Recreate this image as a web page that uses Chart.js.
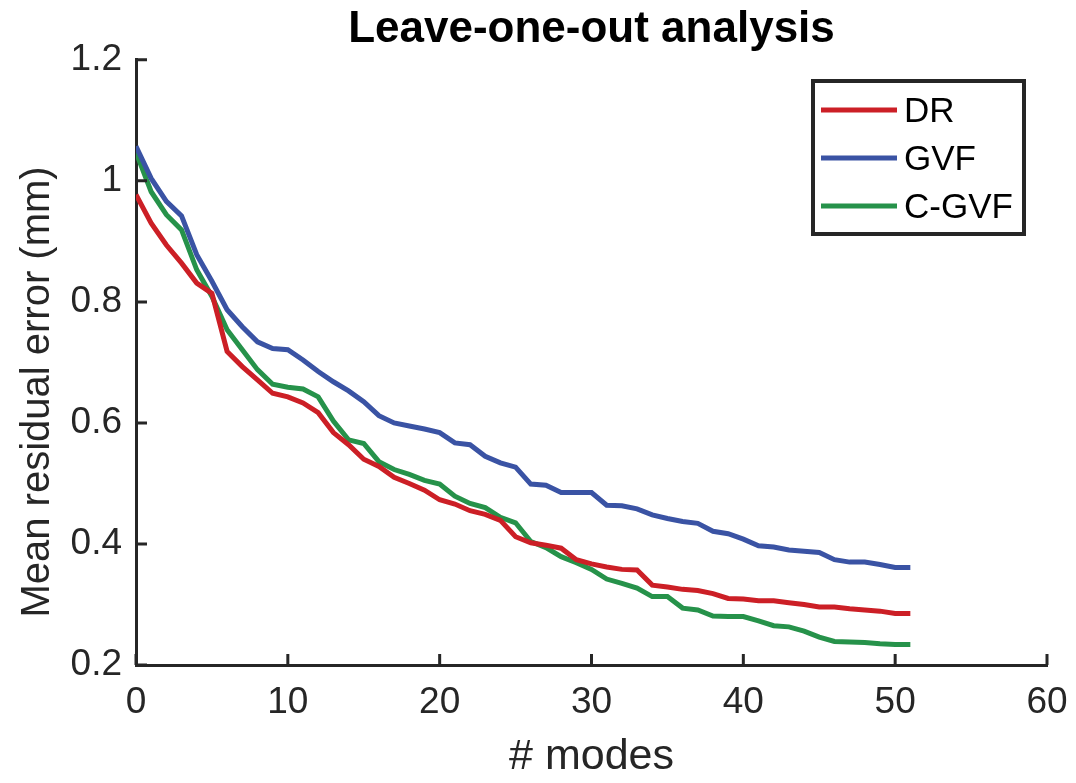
<!DOCTYPE html>
<html>
<head>
<meta charset="utf-8">
<title>Leave-one-out analysis</title>
<script src="https://cdn.jsdelivr.net/npm/chart.js@4/dist/chart.umd.min.js"></script>
<style>
  html, body { margin: 0; padding: 0; background: #fff; }
  #chart { display: block; }
</style>
</head>
<body>
<canvas id="chart" width="1076" height="783"></canvas>
<script>
// Data
const modes = [0, 1, 2, 3, 4, 5, 6, 7, 8, 9, 10, 11, 12, 13, 14, 15, 16, 17, 18, 19, 20, 21, 22, 23, 24, 25,
  26, 27, 28, 29, 30, 31, 32, 33, 34, 35, 36, 37, 38, 39, 40, 41, 42, 43, 44, 45, 46, 47, 48, 49, 50, 51];

const drValues = [0.977, 0.930, 0.894, 0.864, 0.831, 0.814, 0.718, 0.693, 0.671, 0.649, 0.643, 0.633, 0.617,
  0.584, 0.564, 0.540, 0.528, 0.510, 0.500, 0.489, 0.473, 0.466, 0.455, 0.449, 0.439, 0.412,
  0.402, 0.398, 0.393, 0.374, 0.367, 0.362, 0.358, 0.357, 0.332, 0.329, 0.325, 0.323, 0.318, 0.310,
  0.309, 0.306, 0.306, 0.303, 0.300, 0.296, 0.296, 0.293, 0.291, 0.289, 0.285, 0.285];

const gvfValues = [1.057, 1.004, 0.966, 0.942, 0.878, 0.834, 0.787, 0.759, 0.734, 0.723, 0.721, 0.704, 0.685,
  0.668, 0.653, 0.635, 0.612, 0.600, 0.595, 0.590, 0.584, 0.567, 0.564, 0.545, 0.534, 0.527,
  0.499, 0.497, 0.485, 0.485, 0.485, 0.464, 0.463, 0.458, 0.448, 0.442, 0.437, 0.434, 0.421, 0.417,
  0.408, 0.397, 0.395, 0.390, 0.388, 0.386, 0.374, 0.370, 0.370, 0.366, 0.361, 0.361];

const cgvfValues = [1.047, 0.982, 0.944, 0.919, 0.853, 0.809, 0.754, 0.721, 0.688, 0.664, 0.659, 0.656, 0.643,
  0.603, 0.572, 0.566, 0.536, 0.523, 0.515, 0.505, 0.499, 0.479, 0.467, 0.460, 0.444, 0.435,
  0.404, 0.394, 0.379, 0.369, 0.358, 0.342, 0.335, 0.327, 0.313, 0.313, 0.294, 0.291, 0.281, 0.280,
  0.280, 0.273, 0.265, 0.263, 0.256, 0.246, 0.239, 0.238, 0.237, 0.235, 0.234, 0.234];

const seriesLabels = ['DR', 'GVF', 'C-GVF'];
const seriesColors = ['#cc1f26', '#3a53a4', '#26924a'];

const xTicks = [0, 10, 20, 30, 40, 50, 60];
const yTicks = [0.2, 0.4, 0.6, 0.8, 1, 1.2];

const yTitle = 'Mean residual error (mm)';

const axisColor = '#262626';
const fontFamily = '"Liberation Sans", Arial, Helvetica, sans-serif';

function toPoints(values) {
  return values.map((v, i) => ({ x: modes[i], y: v }));
}

// MATLAB style ticks pointing into the plot
const inwardTicks = {
  id: 'inwardTicks',
  afterDatasetsDraw(chart) {
    const { ctx, chartArea, scales } = chart;
    const len = 11;
    ctx.save();
    ctx.strokeStyle = axisColor;
    ctx.lineWidth = 3;
    ctx.beginPath();
    yTicks.forEach(v => {
      const py = scales.y.getPixelForValue(v);
      ctx.moveTo(chartArea.left, py);
      ctx.lineTo(chartArea.left + len, py);
    });
    xTicks.forEach(v => {
      const px = scales.x.getPixelForValue(v);
      ctx.moveTo(px, chartArea.bottom);
      ctx.lineTo(px, chartArea.bottom - len);
    });
    ctx.stroke();

    // y axis title, sits a bit below the middle of the axis like the original
    ctx.translate(38, 392);
    ctx.rotate(-Math.PI / 2);
    ctx.font = '40px ' + fontFamily;
    ctx.fillStyle = axisColor;
    ctx.textAlign = 'center';
    ctx.textBaseline = 'middle';
    ctx.fillText(yTitle, 0, 0);
    ctx.restore();
  }
};

// Boxed legend in the upper right of the plot
const boxLegend = {
  id: 'boxLegend',
  afterDraw(chart) {
    const { ctx } = chart;
    const box = { x: 813, y: 81, w: 211, h: 153 };
    ctx.save();
    ctx.fillStyle = '#fff';
    ctx.fillRect(box.x, box.y, box.w, box.h);
    ctx.strokeStyle = axisColor;
    ctx.lineWidth = 4;
    ctx.strokeRect(box.x, box.y, box.w, box.h);
    ctx.font = '35px ' + fontFamily;
    ctx.textBaseline = 'middle';
    ctx.fillStyle = '#000';
    chart.data.datasets.forEach((ds, i) => {
      const y = 110 + i * 48;
      ctx.strokeStyle = ds.borderColor;
      ctx.lineWidth = 5;
      ctx.beginPath();
      ctx.moveTo(821, y);
      ctx.lineTo(897, y);
      ctx.stroke();
      ctx.fillText(ds.label, 904, y + 2);
    });
    ctx.restore();
  }
};

const datasets = [drValues, gvfValues, cgvfValues].map((vals, i) => ({
  label: seriesLabels[i],
  data: toPoints(vals),
  borderColor: seriesColors[i],
  backgroundColor: seriesColors[i],
  borderWidth: 5,
  pointRadius: 0,
  tension: 0,
  fill: false
}));

new Chart(document.getElementById('chart'), {
  type: 'line',
  data: { datasets },
  plugins: [inwardTicks, boxLegend],
  options: {
    responsive: false,
    animation: false,
    layout: { padding: { left: 0, right: 29, top: 0, bottom: 0 } },
    plugins: {
      legend: { display: false },
      tooltip: { enabled: false },
      title: {
        display: true,
        fullSize: false,
        text: 'Leave-one-out analysis',
        color: '#000',
        font: { family: fontFamily, size: 44, weight: 'bold' },
        padding: { top: 3, bottom: 4 }
      }
    },
    scales: {
      x: {
        type: 'linear',
        min: 0,
        max: 60,
        afterFit: s => {
          s.height = 118;
          s.paddingLeft = 0;
          s.paddingRight = 0;
        },
        afterBuildTicks: s => { s.ticks = xTicks.map(v => ({ value: v })); },
        grid: { display: false, drawTicks: false },
        border: { display: true, color: axisColor, width: 3 },
        ticks: {
          color: axisColor,
          padding: 16,
          maxRotation: 0,
          font: { family: fontFamily, size: 37 }
        },
        title: {
          display: true,
          text: '# modes',
          color: axisColor,
          font: { family: fontFamily, size: 43 },
          padding: { top: 0, bottom: 0 }
        }
      },
      y: {
        type: 'linear',
        min: 0.2,
        max: 1.2,
        afterFit: s => { s.width = 136; },
        afterBuildTicks: s => { s.ticks = yTicks.map(v => ({ value: v })); },
        grid: { display: false, drawTicks: false },
        border: { display: true, color: axisColor, width: 3 },
        ticks: {
          color: axisColor,
          padding: 14,
          font: { family: fontFamily, size: 37 },
          callback: v => String(+v.toFixed(1))
        },
        title: { display: false }
      }
    }
  }
});
</script>
</body>
</html>
